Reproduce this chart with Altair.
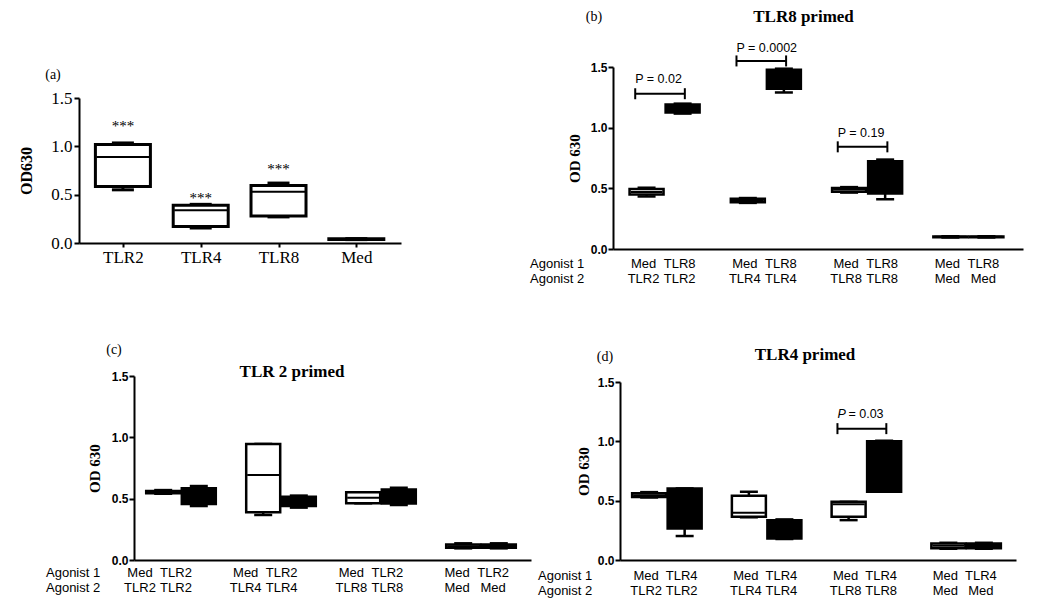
import altair as alt
import pandas as pd

SERIF = "Liberation Serif"
SANS = "Liberation Sans"

# ---------------- panel (a) ----------------
a_agonist = ["TLR2", "TLR4", "TLR8", "Med"]
a_min = [0.550, 0.155, 0.270, 0.035]
a_q1 = [0.585, 0.170, 0.280, 0.037]
a_median = [0.890, 0.340, 0.530, 0.040]
a_q3 = [1.020, 0.390, 0.595, 0.043]
a_max = [1.035, 0.400, 0.620, 0.045]
a_star_group = [0, 1, 2]
a_star_text = ["***", "***", "***"]
a_star_level = [1.24, 0.50, 0.80]

# ---------------- panel (b) TLR8 primed ----------------
b_title = "TLR8 primed"
b_agonist1 = ["Med", "TLR8", "Med", "TLR8", "Med", "TLR8", "Med", "TLR8"]
b_agonist2 = ["TLR2", "TLR2", "TLR4", "TLR4", "TLR8", "TLR8", "Med", "Med"]
b_min = [0.433, 1.116, 0.380, 1.290, 0.465, 0.410, 0.095, 0.095]
b_q1 = [0.450, 1.125, 0.385, 1.320, 0.472, 0.458, 0.097, 0.097]
b_median = [0.470, 1.150, 0.400, 1.400, 0.490, 0.600, 0.100, 0.100]
b_q3 = [0.495, 1.190, 0.415, 1.478, 0.503, 0.724, 0.103, 0.103]
b_max = [0.505, 1.198, 0.420, 1.486, 0.510, 0.737, 0.105, 0.105]
b_p_group = [0, 1, 2]
b_p_text = ["P = 0.02", "P = 0.0002", "P = 0.19"]
b_p_bar = [1.28, 1.55, 0.842]
b_p_label = [1.40, 1.658, 0.953]

# ---------------- panel (c) TLR 2 primed ----------------
c_title = "TLR 2 primed"
c_agonist1 = ["Med", "TLR2", "Med", "TLR2", "Med", "TLR2", "Med", "TLR2"]
c_agonist2 = ["TLR2", "TLR2", "TLR4", "TLR4", "TLR8", "TLR8", "Med", "Med"]
c_min = [0.540, 0.440, 0.367, 0.427, 0.462, 0.448, 0.095, 0.095]
c_q1 = [0.545, 0.457, 0.389, 0.440, 0.462, 0.460, 0.100, 0.100]
c_median = [0.555, 0.520, 0.693, 0.470, 0.508, 0.520, 0.113, 0.113]
c_q3 = [0.562, 0.584, 0.946, 0.515, 0.552, 0.575, 0.126, 0.126]
c_max = [0.570, 0.603, 0.946, 0.525, 0.552, 0.590, 0.136, 0.136]

# ---------------- panel (d) TLR4 primed ----------------
d_title = "TLR4 primed"
d_agonist1 = ["Med", "TLR4", "Med", "TLR4", "Med", "TLR4", "Med", "TLR4"]
d_agonist2 = ["TLR2", "TLR2", "TLR4", "TLR4", "TLR8", "TLR8", "Med", "Med"]
d_min = [0.527, 0.202, 0.360, 0.177, 0.336, 0.575, 0.095, 0.095]
d_q1 = [0.530, 0.266, 0.364, 0.182, 0.364, 0.575, 0.100, 0.100]
d_median = [0.545, 0.500, 0.398, 0.260, 0.470, 0.800, 0.120, 0.120]
d_q3 = [0.562, 0.603, 0.541, 0.336, 0.490, 1.000, 0.140, 0.140]
d_max = [0.572, 0.603, 0.575, 0.342, 0.490, 1.004, 0.145, 0.145]
d_p_group = [2]
d_p_prefix = ["P"]
d_p_text = ["= 0.03"]
d_p_bar = [1.107]
d_p_label = [1.228]

row_labels = ["Agonist 1", "Agonist 2"]
y_ticks = [0, 0.5, 1.0, 1.5]
PAIR_SHIFT = 0.356
BOX_X = f"datum.group + (datum.box - 0.5) * {PAIR_SHIFT}"
# panel (c) prints its group labels on a slightly wider spacing than its boxes
C_LABEL_X = "datum.group * 1.057 - 0.23 + (datum.box - 0.5) * 0.36"

AXIS_STYLE = dict(domainColor="black", domainWidth=2, tickColor="black", tickWidth=2,
                  labelColor="black", titleColor="black", grid=False)


def frame(a1, a2, mn, q1, md, q3, mx, paired=True):
    n = len(mn)
    return pd.DataFrame({
        "group": [i // 2 if paired else i for i in range(n)],
        "box": [i % 2 if paired else 0 for i in range(n)],
        "agonist1": a1, "agonist2": a2,
        "lo": mn, "q1": q1, "median": md, "q3": q3, "hi": mx,
    })


class Panel:
    def __init__(self, xs, ys, xaxis, yaxis):
        self.xs, self.ys, self.xaxis, self.yaxis = xs, ys, xaxis, yaxis

    def X(self, field):
        return alt.X(field, scale=self.xs, axis=self.xaxis)

    def Y(self, field):
        return alt.Y(field, scale=self.ys, axis=self.yaxis)


def box_layers(df, P, box_px, cap_px, shift, stroke_w):
    base = alt.Chart(df).transform_calculate(
        xpos=f"datum.group + (datum.box - 0.5) * {shift}")
    X = P.X("xpos:Q")
    tick = dict(orient="horizontal", color="black", opacity=1)
    whisker = base.mark_rule(color="black", strokeWidth=stroke_w).encode(
        x=X, y=P.Y("lo:Q"), y2="hi:Q")
    cap_lo = base.mark_tick(size=cap_px, thickness=stroke_w, **tick).encode(x=X, y=P.Y("lo:Q"))
    cap_hi = base.mark_tick(size=cap_px, thickness=stroke_w, **tick).encode(x=X, y=P.Y("hi:Q"))
    box = base.mark_bar(size=box_px, stroke="black", strokeWidth=stroke_w, opacity=1).encode(
        x=X, y=P.Y("q1:Q"), y2="q3:Q",
        fill=alt.when(alt.datum.box == 0).then(alt.value("white")).otherwise(alt.value("black")))
    med = base.mark_tick(size=box_px - 2, thickness=2, **tick).encode(x=X, y=P.Y("median:Q"))
    return [whisker, cap_lo, cap_hi, box, med]


def label_layers(df, P, y1, y2, dx, expr=BOX_X):
    base = alt.Chart(df).transform_calculate(lx=expr)
    X = P.X("lx:Q")
    l1 = base.mark_text(font=SANS, fontSize=13, baseline="middle", dx=dx).encode(
        x=X, y=alt.value(y1), text="agonist1:N")
    l2 = base.mark_text(font=SANS, fontSize=13, baseline="middle", dx=dx).encode(
        x=X, y=alt.value(y2), text="agonist2:N")
    return [l1, l2]


def bracket_layers(pdf, P, text_dx=0, prefix=False):
    base = alt.Chart(pdf).transform_calculate(xl="datum.group - 0.29", xr="datum.group + 0.2")
    XL = P.X("xl:Q")
    XR = P.X("xr:Q")
    YB = P.Y("bar:Q")
    vt = dict(orient="vertical", size=11, thickness=2, color="black", opacity=1)
    layers = [
        base.mark_rule(color="black", strokeWidth=2).encode(x=XL, x2="xr:Q", y=YB),
        base.mark_tick(**vt).encode(x=XL, y=YB),
        base.mark_tick(**vt).encode(x=XR, y=YB),
        base.mark_text(align="left", baseline="middle", font=SANS, fontSize=12.5, dx=text_dx).encode(
            x=XL, y=P.Y("label:Q"), text="text:N"),
    ]
    if prefix:
        layers.append(base.mark_text(align="left", baseline="middle", font=SANS, fontSize=12.5,
                                     fontStyle="italic").encode(
            x=XL, y=P.Y("label:Q"), text="prefix:N"))
    return layers


def note(text, x, y, **style):
    return alt.Chart(pd.DataFrame({"t": [text]})).mark_text(**style).encode(
        x=alt.value(x), y=alt.value(y), text="t:N")


def od_axis(title_x, offset=0):
    return alt.Axis(values=y_ticks, format=".1f", title="OD 630", titleFont=SERIF,
                    titleFontWeight="bold", titleFontSize=15, titleX=title_x,
                    titleBaseline="middle", labelFont=SANS, labelFontWeight="bold",
                    labelFontSize=12, tickSize=5, labelPadding=1, offset=offset, **AXIS_STYLE)


def flat_x_axis():
    return alt.Axis(labels=False, ticks=False, title=None, **AXIS_STYLE)


title_style = dict(font=SERIF, fontSize=17, fontWeight="bold", align="center", baseline="middle")
tag_style = dict(font=SERIF, fontSize=14, align="center", baseline="middle")
row_style = dict(font=SANS, fontSize=13, align="left", baseline="middle")

# ---------- (a) ----------
df_a = frame(a_agonist, a_agonist, a_min, a_q1, a_median, a_q3, a_max, paired=False)
label_expr = "[" + ",".join(f"'{s}'" for s in a_agonist) + "][datum.value]"
PA = Panel(
    alt.Scale(domain=[-0.5, 3.51], range=[-55, 267], nice=False, zero=False),
    alt.Scale(domain=[0, 1.5], range=[176, 31], nice=False, zero=False),
    alt.Axis(values=[0, 1, 2, 3], labelExpr=label_expr, labelFont=SERIF, labelFontSize=17,
             tickSize=4, labelPadding=2, labelFlush=False, title=None, **AXIS_STYLE),
    alt.Axis(values=y_ticks, format=".1f", title="OD630", titleFont=SERIF,
             titleFontWeight="bold", titleFontSize=16, titleX=-53, titleBaseline="middle",
             labelFont=SERIF, labelFontSize=17, tickSize=5, labelPadding=2, offset=55,
             **AXIS_STYLE),
)
stars_df = pd.DataFrame({"group": a_star_group, "text": a_star_text, "level": a_star_level})
stars = alt.Chart(stars_df).mark_text(font=SERIF, fontSize=15, baseline="alphabetic", dy=8).encode(
    x=PA.X("group:Q"), y=PA.Y("level:Q"), text="text:N")
panel_a = alt.layer(
    *box_layers(df_a, PA, 55, 22, 0, 3),
    stars,
    note("(a)", -81, 8, **tag_style),
).properties(width=267, height=176)

# ---------- (b) ----------
df_b = frame(b_agonist1, b_agonist2, b_min, b_q1, b_median, b_q3, b_max)
p_b = pd.DataFrame({"group": b_p_group, "text": b_p_text, "bar": b_p_bar, "label": b_p_label})
PB = Panel(alt.Scale(domain=[-0.46, 3.49], range=[-7, 403], nice=False, zero=False),
           alt.Scale(domain=[0, 1.5], nice=False, zero=False),
           flat_x_axis(), od_axis(-39, offset=7))
panel_b = alt.layer(
    *box_layers(df_b, PB, 34, 18, PAIR_SHIFT, 2.5),
    *bracket_layers(p_b, PB),
    *label_layers(df_b, PB, 197, 212, -3),
    note(row_labels[0], -90, 197, **row_style),
    note(row_labels[1], -90, 212, **row_style),
    note(b_title, 183.5, -50, **title_style),
    note("(b)", -26, -50, **tag_style),
).properties(width=403, height=182)

# ---------- (c) ----------
df_c = frame(c_agonist1, c_agonist2, c_min, c_q1, c_median, c_q3, c_max)
PC = Panel(alt.Scale(domain=[-0.42, 3.45], nice=False, zero=False),
           alt.Scale(domain=[0, 1.5], nice=False, zero=False),
           flat_x_axis(), od_axis(-40))
panel_c = alt.layer(
    *box_layers(df_c, PC, 34, 18, PAIR_SHIFT, 2.5),
    *label_layers(df_c, PC, 197, 212, 0, expr=C_LABEL_X),
    note(row_labels[0], -88, 197, **row_style),
    note(row_labels[1], -88, 212, **row_style),
    note(c_title, 158, -4, **title_style),
    note("(c)", -20, -26, **tag_style),
).properties(width=397, height=184)

# ---------- (d) ----------
df_d = frame(d_agonist1, d_agonist2, d_min, d_q1, d_median, d_q3, d_max)
p_d = pd.DataFrame({"group": d_p_group, "prefix": d_p_prefix, "text": d_p_text,
                    "bar": d_p_bar, "label": d_p_label})
PD = Panel(alt.Scale(domain=[-0.42, 3.45], nice=False, zero=False),
           alt.Scale(domain=[0, 1.5], range=[184, 6], nice=False, zero=False),
           flat_x_axis(), od_axis(-37))
panel_d = alt.layer(
    *box_layers(df_d, PD, 34, 18, PAIR_SHIFT, 2.5),
    *bracket_layers(p_d, PD, text_dx=11, prefix=True),
    *label_layers(df_d, PD, 200, 215, -3),
    note(row_labels[0], -82, 200, **row_style),
    note(row_labels[1], -82, 215, **row_style),
    note(d_title, 185, -21, **title_style),
    note("(d)", -15, -19, **tag_style),
).properties(width=396, height=184)

chart = alt.concat(
    panel_a, panel_b, panel_c, panel_d,
    columns=2, bounds="flush", spacing={"row": 127, "column": 89},
).properties(
    padding={"left": 10, "top": 0, "right": 0, "bottom": 0}
).configure_view(stroke=None)

chart.save("out.html", embed_options={"renderer": "svg", "actions": False})
